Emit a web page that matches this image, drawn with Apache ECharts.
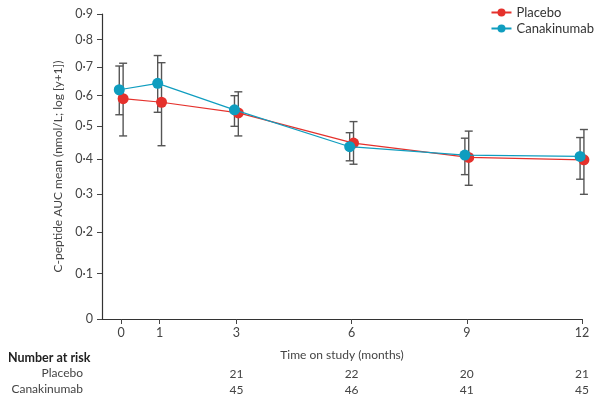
<!DOCTYPE html>
<html>
<head>
<meta charset="utf-8">
<script src="https://cdn.jsdelivr.net/npm/echarts@6/dist/echarts.min.js"></script>
<style>
  html, body { margin: 0; padding: 0; background: #fff; }
  #main { width: 600px; height: 403px; }
</style>
</head>
<body>
<div id="main"></div>
<script>
// data (y in nmol/L, plotted on log[y+1])
const months = [0, 1, 3, 6, 9, 12]
const placeboMean = [0.59, 0.578, 0.543, 0.448, 0.405, 0.398]
const placeboLow = [0.47, 0.44, 0.47, 0.385, 0.325, 0.30]
const placeboHigh = [0.713, 0.715, 0.613, 0.515, 0.485, 0.49]
const canaMean = [0.62, 0.642, 0.553, 0.437, 0.412, 0.408]
const canaLow = [0.537, 0.545, 0.50, 0.395, 0.355, 0.342]
const canaHigh = [0.703, 0.741, 0.60, 0.48, 0.463, 0.465]

const yTicks = [0, 0.1, 0.2, 0.3, 0.4, 0.5, 0.6, 0.7, 0.8, 0.9]
const xTicks = [0, 1, 3, 6, 9, 12]

const riskMonths = [3, 6, 9, 12]
const riskPlacebo = [21, 22, 20, 21]
const riskCana = [45, 46, 41, 45]

const RED = '#e5312c'
const BLUE = '#0f9dbf'
const FONT = 'Lato'
const dodge = 0.05

const t = v => Math.log10(v + 1)
const fmt = v => (v === 0 ? '0' : v.toFixed(1).replace('.', '·'))

const chart = echarts.init(document.getElementById('main'))

function errorBars(low, high, shift) {
  return months.map((m, i) => [m + shift, t(low[i]), t(high[i])])
}

/** 误差线 */
function renderError(params, api) {
  const x = api.value(0)
  const lo = api.coord([x, api.value(1)])
  const hi = api.coord([x, api.value(2)])
  const w = 4
  const style = { stroke: '#555', lineWidth: 1.4 }
  return {
    type: 'group',
    children: [
      { type: 'line', shape: { x1: lo[0], y1: lo[1], x2: hi[0], y2: hi[1] }, style },
      { type: 'line', shape: { x1: hi[0] - w, y1: hi[1], x2: hi[0] + w, y2: hi[1] }, style },
      { type: 'line', shape: { x1: lo[0] - w, y1: lo[1], x2: lo[0] + w, y2: lo[1] }, style }
    ]
  }
}

// number-at-risk rows, placed under the x axis
function riskRow(counts, offset) {
  return {
    type: 'custom',
    silent: true,
    clip: false,
    data: riskMonths.map((m, i) => [m, 0, counts[i]]),
    renderItem(params, api) {
      const p = api.coord([api.value(0), 0])
      return {
        type: 'text',
        x: p[0],
        y: p[1] + offset,
        style: {
          text: String(api.value(2)),
          fill: '#444',
          font: '12px ' + FONT,
          align: 'center',
          verticalAlign: 'middle'
        }
      }
    }
  }
}

const option = {
  animation: false,
  textStyle: { fontFamily: FONT },
  legend: {
    orient: 'vertical',
    right: 1,
    top: 1,
    itemGap: 3,
    itemWidth: 20,
    itemHeight: 10,
    textStyle: { fontSize: 13, color: '#333', fontFamily: FONT },
    data: ['Placebo', 'Canakinumab']
  },
  grid: { left: 102, right: 18, top: 14, bottom: 84 },
  xAxis: {
    type: 'value',
    min: -0.5,
    max: 12,
    name: 'Time on study (months)',
    nameLocation: 'middle',
    nameGap: 30,
    nameTextStyle: { fontSize: 12, color: '#444' },
    axisLine: { onZero: false, lineStyle: { color: '#333', width: 1.2 } },
    axisTick: { show: true, length: 5, customValues: xTicks, lineStyle: { color: '#444' } },
    axisLabel: { customValues: xTicks, fontSize: 12.5, color: '#444', margin: 7 },
    splitLine: { show: false }
  },
  yAxis: {
    type: 'value',
    min: 0,
    max: t(0.9),
    name: 'C-peptide AUC mean (nmol/L; log [y+1])',
    nameLocation: 'middle',
    nameGap: 36,
    nameTextStyle: { fontSize: 12, color: '#444' },
    axisLine: { show: true, onZero: false, lineStyle: { color: '#333', width: 1.2 } },
    axisTick: { show: true, length: 5, customValues: yTicks.map(t), lineStyle: { color: '#444' } },
    axisLabel: {
      customValues: yTicks.map(t),
      fontSize: 12.5,
      color: '#444',
      margin: 9,
      formatter: v => fmt(Math.round((Math.pow(10, v) - 1) * 10) / 10)
    },
    splitLine: { show: false }
  },
  series: [
    {
      type: 'custom',
      silent: true,
      clip: false,
      z: 1,
      renderItem: renderError,
      data: errorBars(canaLow, canaHigh, -dodge)
    },
    {
      type: 'custom',
      silent: true,
      clip: false,
      z: 1,
      renderItem: renderError,
      data: errorBars(placeboLow, placeboHigh, dodge)
    },
    {
      name: 'Placebo',
      type: 'line',
      z: 3,
      clip: false,
      symbol: 'circle',
      symbolSize: 11,
      itemStyle: { color: RED },
      lineStyle: { color: RED, width: 1.2 },
      data: months.map((m, i) => [m + dodge, t(placeboMean[i])])
    },
    {
      name: 'Canakinumab',
      type: 'line',
      z: 4,
      clip: false,
      symbol: 'circle',
      symbolSize: 11,
      itemStyle: { color: BLUE },
      lineStyle: { color: BLUE, width: 1.2 },
      data: months.map((m, i) => [m - dodge, t(canaMean[i])])
    },
    riskRow(riskPlacebo, 55),
    riskRow(riskCana, 71)
  ],
  graphic: [
    { type: 'text', left: 8, top: 351, style: { text: 'Number at risk', font: 'bold 12.5px ' + FONT, fill: '#222' } },
    { type: 'text', right: 517, top: 367, style: { text: 'Placebo', font: '12px ' + FONT, fill: '#444' } },
    { type: 'text', right: 517, top: 383, style: { text: 'Canakinumab', font: '12px ' + FONT, fill: '#444' } }
  ]
}

chart.setOption(option)
</script>
</body>
</html>
